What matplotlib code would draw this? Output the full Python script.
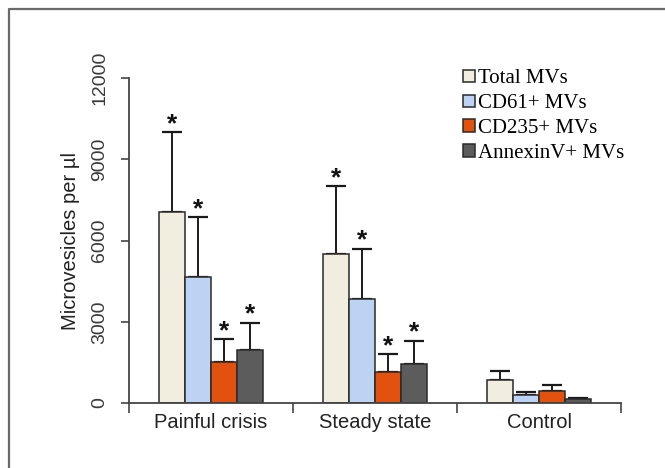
import matplotlib
matplotlib.use("Agg")
import matplotlib.pyplot as plt
import numpy as np
from matplotlib.lines import Line2D

groups = ["Painful crisis", "Steady state", "Control"]
series = ["Total MVs", "CD61+ MVs", "CD235+ MVs", "AnnexinV+ MVs"]
means = {
    "Total MVs": [7050, 5500, 850],
    "CD61+ MVs": [4650, 3850, 300],
    "CD235+ MVs": [1500, 1150, 450],
    "AnnexinV+ MVs": [1950, 1450, 150],
}
errors = {
    "Total MVs": [2950, 2500, 350],
    "CD61+ MVs": [2200, 1850, 100],
    "CD235+ MVs": [850, 650, 200],
    "AnnexinV+ MVs": [1000, 850, 50],
}
significant = [True, True, False]
yticks = [0, 3000, 6000, 9000, 12000]
colors = ["#f1eedf", "#bcd3f3", "#e2520e", "#5c5c5c"]

fig = plt.figure(figsize=(6.65, 4.68), dpi=100)
ax = fig.add_axes([129/665, 1-403/468, (621-129)/665, (403-78)/468])

# outer frame (left and top edges visible)
fig.lines.append(Line2D([8.5/665, 8.5/665, 1.0], [0.0, 1-9/468, 1-9/468],
                        transform=fig.transFigure, color="#6a6a6a", linewidth=1.6))

x = np.arange(len(groups))
w = 0.16
for i, s in enumerate(series):
    xs = x + (i - 1.5) * w
    ax.bar(xs, means[s], width=w, color=colors[i], edgecolor="#2a2a2a", linewidth=1.1,
           label=s, zorder=2)
    ax.errorbar(xs, means[s], yerr=[np.zeros(len(groups)), errors[s]], fmt="none",
                ecolor="#1a1a1a", elinewidth=1.4, capsize=7, capthick=1.6, zorder=1)
    for j in range(len(groups)):
        if significant[j]:
            ax.annotate("*", (xs[j], means[s][j] + errors[s][j]), xytext=(0, 6),
                        textcoords="offset points", ha="center", va="center",
                        fontsize=19, fontweight="bold", color="#111111",
                        family="Liberation Sans")

ax.set_xlim(-0.5, 2.5)
ax.set_ylim(0, 12000)
ax.set_yticks(yticks)
ax.set_yticklabels([str(t) for t in yticks], rotation=90, va="center",
                   fontsize=14, color="#3a3a3a", family="Liberation Sans")
ax.set_xticks(x)
ax.set_xticklabels(groups, fontsize=14.5, color="#222222", family="Liberation Sans")
ax.set_xticks([-0.5, 0.5, 1.5, 2.5], minor=True)
ax.tick_params(axis="x", which="major", length=0, pad=7)
ax.tick_params(axis="x", which="minor", length=7, width=1.2, color="#444444", direction="out")
ax.tick_params(axis="y", length=6, width=1.2, color="#444444", direction="out", pad=9)
for sp in ["top", "right"]:
    ax.spines[sp].set_visible(False)
for sp in ["left", "bottom"]:
    ax.spines[sp].set_color("#444444")
    ax.spines[sp].set_linewidth(1.3)
ax.set_ylabel("Microvesicles per µl", fontsize=14.5, color="#222222",
              family="Liberation Sans", labelpad=8)

leg = ax.legend(loc="upper left", bbox_to_anchor=(453/665, 1-59/468),
                bbox_transform=fig.transFigure, frameon=False,
                prop={"family": "Liberation Serif", "size": 15},
                handlelength=0.55, handleheight=0.55, handletextpad=0.15,
                labelspacing=0.28, borderpad=0)

fig.savefig("out.png", dpi=100)
